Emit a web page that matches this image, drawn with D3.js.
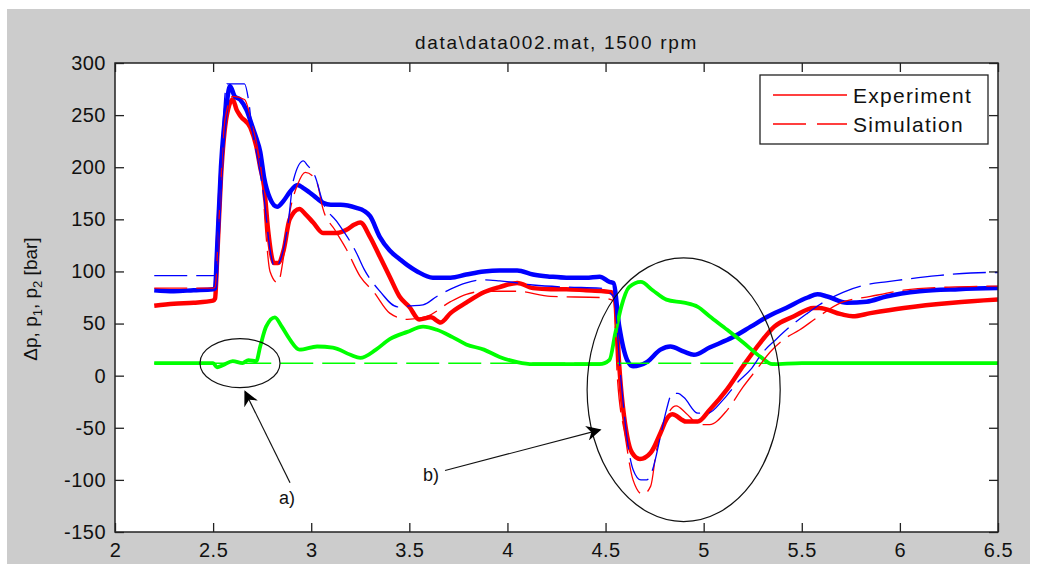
<!DOCTYPE html>
<html>
<head>
<meta charset="utf-8">
<script src="https://cdn.jsdelivr.net/npm/d3@7"></script>
<style>
  html, body { margin: 0; padding: 0; background: #ffffff; }
  svg { display: block; font-family: "Liberation Sans", Arial, Helvetica, sans-serif; }
</style>
</head>
<body>
<svg id="chart" width="1039" height="564"></svg>
<script>
// ---------------- DATA ----------------
const titleText = "data\\data002.mat, 1500 rpm";
const xTicks = [2, 2.5, 3, 3.5, 4, 4.5, 5, 5.5, 6, 6.5];
const xTickLabels = ["2", "2.5", "3", "3.5", "4", "4.5", "5", "5.5", "6", "6.5"];
const yTicks = [-150, -100, -50, 0, 50, 100, 150, 200, 250, 300];
const yTickLabels = ["-150", "-100", "-50", "0", "50", "100", "150", "200", "250", "300"];
const legendLabels = ["Experiment", "Simulation"];

// p1 experiment (blue, solid)
const p1Exp = [[2.2,82],[2.3,81],[2.4,82],[2.5,83],[2.51,84],[2.52,120],[2.54,200],[2.57,262],[2.586,278],[2.61,268],[2.637,265],[2.67,255],[2.70,239],[2.72,228],[2.74,215],[2.76,190],[2.79,170],[2.826,162],[2.86,168],[2.89,176],[2.93,183],[2.96,180],[2.99,176],[3.03,170],[3.06,166],[3.10,164],[3.15,164],[3.23,161],[3.27,158],[3.30,153],[3.35,133],[3.40,120],[3.45,112],[3.49,106],[3.54,100],[3.62,94],[3.71,94],[3.79,97],[3.88,100],[3.96,101],[4.05,101],[4.13,97],[4.22,95],[4.30,94],[4.40,94],[4.47,95],[4.52,90],[4.54,89],[4.57,47],[4.61,15],[4.64,9],[4.71,13],[4.78,25],[4.83,28],[4.90,23],[4.95,20],[5.03,27],[5.15,37],[5.24,47],[5.32,56],[5.42,65],[5.53,75],[5.58,78],[5.63,76],[5.73,70],[5.83,71],[5.93,76],[6.10,81],[6.30,83],[6.50,84]];
// p2 experiment (red, solid)
const p2Exp = [[2.2,67],[2.3,69],[2.4,70],[2.5,72],[2.51,74],[2.52,110],[2.54,190],[2.57,250],[2.60,265],[2.62,255],[2.64,249],[2.69,238],[2.72,220],[2.74,200],[2.76,181],[2.78,140],[2.81,108],[2.83,108],[2.86,121],[2.89,150],[2.94,160],[2.97,155],[3.01,147],[3.06,137],[3.13,137],[3.18,140],[3.22,145],[3.25,147],[3.30,133],[3.35,114],[3.40,95],[3.45,76],[3.50,66],[3.55,54],[3.61,56],[3.66,51],[3.71,60],[3.79,70],[3.88,80],[3.96,85],[4.05,89],[4.13,84],[4.22,83],[4.30,83],[4.40,82],[4.49,81],[4.53,80],[4.55,73],[4.57,9],[4.61,-58],[4.635,-74],[4.675,-80],[4.73,-74],[4.78,-55],[4.81,-42],[4.84,-37],[4.91,-44],[4.97,-44],[5.03,-33],[5.12,-13],[5.20,9],[5.29,32],[5.36,47],[5.46,57],[5.56,65],[5.59,65],[5.70,59],[5.76,57],[5.85,60],[6.02,65],[6.27,70],[6.50,73]];
// delta p experiment (green, solid)
const dpExp = [[2.2,12],[2.3,12],[2.4,12],[2.5,12],[2.52,8],[2.55,10],[2.60,14],[2.65,12],[2.68,15],[2.72,14],[2.74,28],[2.77,47],[2.815,56],[2.85,47],[2.89,35],[2.94,25],[3.03,28],[3.11,27],[3.20,20],[3.25,17],[3.33,25],[3.40,35],[3.49,42],[3.57,47],[3.64,44],[3.72,37],[3.79,30],[3.88,25],[3.96,18],[4.05,13],[4.13,11],[4.30,11],[4.47,11],[4.52,15],[4.55,41],[4.58,66],[4.62,85],[4.68,90],[4.74,82],[4.81,73],[4.90,70],[4.97,66],[5.03,57],[5.12,44],[5.20,32],[5.29,18],[5.35,11],[5.50,12],[6.00,12],[6.50,12]];
// p1 simulation (blue, dashed)
const p1Sim = [[2.2,96],[2.5,96],[2.51,97],[2.53,150],[2.55,240],[2.57,280],[2.66,280],[2.68,265],[2.70,235],[2.73,205],[2.76,170],[2.79,121],[2.815,104],[2.85,115],[2.88,143],[2.91,188],[2.96,206],[2.98,202],[3.02,191],[3.06,166],[3.13,148],[3.23,118],[3.27,102],[3.35,81],[3.44,66],[3.50,67],[3.57,68],[3.64,76],[3.71,83],[3.79,89],[3.88,92],[3.96,91],[4.13,87],[4.30,85],[4.47,84],[4.54,76],[4.58,-7],[4.61,-61],[4.64,-90],[4.68,-100],[4.71,-100],[4.74,-90],[4.78,-58],[4.81,-33],[4.84,-17],[4.87,-17],[4.90,-21],[4.97,-36],[5.02,-36],[5.10,-23],[5.17,-7],[5.24,6],[5.30,22],[5.37,35],[5.44,47],[5.53,60],[5.59,68],[5.71,80],[5.85,88],[5.93,90],[6.19,96],[6.44,99],[6.50,99]];
// p2 simulation (red, dashed)
const p2Sim = [[2.2,84],[2.5,84],[2.51,85],[2.53,150],[2.56,245],[2.60,268],[2.66,265],[2.70,240],[2.73,215],[2.75,188],[2.77,134],[2.79,100],[2.83,89],[2.86,115],[2.89,156],[2.93,183],[2.97,195],[3.01,191],[3.03,185],[3.06,160],[3.12,140],[3.18,121],[3.25,95],[3.32,80],[3.40,60],[3.49,54],[3.59,57],[3.71,71],[3.79,78],[3.88,81],[4.05,81],[4.22,76],[4.47,75],[4.54,72],[4.56,-1],[4.60,-58],[4.64,-100],[4.69,-114],[4.73,-106],[4.76,-71],[4.79,-52],[4.83,-33],[4.86,-29],[4.91,-36],[4.98,-47],[5.03,-47],[5.12,-33],[5.20,-11],[5.27,6],[5.34,23],[5.41,35],[5.49,44],[5.58,56],[5.70,70],[5.85,76],[6.02,82],[6.25,85],[6.50,86]];
// delta p simulation (green, dashed)
const dpSim = [[2.2,12],[6.5,12]];

// annotations (data coordinates)
const ellipses = [
  {cx: 2.637, cy: 12, rx: 0.204, ry: 23.5},
  {cx: 4.898, cy: -13.5, rx: 0.492, ry: 126.5}
];
const arrows = [
  {x1: 2.892, y1: -102.7, x2: 2.663, y2: -15.4},
  {x1: 3.682, y1: -91, x2: 4.472, y2: -52}
];
const notes = [
  {x: 2.877, y: -123, text: "a)"},
  {x: 3.61, y: -101, text: "b)"}
];

// ---------------- DRAW ----------------
const svg = d3.select("#chart");
const W = 1039, H = 564;
const m = {left: 115, top: 63, right: 998, bottom: 532};

svg.append("rect").attr("x", 7).attr("y", 9).attr("width", 1023).attr("height", H - 9).attr("fill", "#cccccc");

const x = d3.scaleLinear().domain([2, 6.5]).range([m.left, m.right]);
const y = d3.scaleLinear().domain([-150, 300]).range([m.bottom, m.top]);

svg.append("rect").attr("x", m.left).attr("y", m.top)
  .attr("width", m.right - m.left).attr("height", m.bottom - m.top).attr("fill", "#ffffff");

const defs = svg.append("defs");
defs.append("clipPath").attr("id", "clip")
  .append("rect").attr("x", m.left).attr("y", m.top)
  .attr("width", m.right - m.left).attr("height", m.bottom - m.top);

const line = d3.line().x(d => x(d[0])).y(d => y(d[1])).curve(d3.curveMonotoneX);
const plot = svg.append("g").attr("clip-path", "url(#clip)");

const dash = "33,9";
const series = [
  {d: p2Exp, c: "#ff0000", w: 4.5, dash: null},
  {d: p1Exp, c: "#0000ff", w: 4.5, dash: null},
  {d: dpExp, c: "#00ff00", w: 3.8, dash: null},
  {d: dpSim, c: "#00ff00", w: 1.5, dash: dash},
  {d: p2Sim, c: "#ff0000", w: 1.3, dash: dash},
  {d: p1Sim, c: "#0000ff", w: 1.3, dash: dash}
];
series.forEach(s => {
  plot.append("path").datum(s.d).attr("d", line)
    .attr("fill", "none").attr("stroke", s.c).attr("stroke-width", s.w)
    .attr("stroke-linejoin", "round")
    .attr("stroke-dasharray", s.dash);
});

// annotations
const ann = svg.append("g");
ellipses.forEach(e => {
  ann.append("ellipse")
    .attr("cx", x(e.cx)).attr("cy", y(e.cy))
    .attr("rx", x(e.cx + e.rx) - x(e.cx)).attr("ry", y(e.cy) - y(e.cy + e.ry))
    .attr("fill", "none").attr("stroke", "#111").attr("stroke-width", 1.2);
});
defs.append("marker").attr("id", "arrowhead")
  .attr("viewBox", "0 0 10 10").attr("refX", 9).attr("refY", 5)
  .attr("markerWidth", 20).attr("markerHeight", 15).attr("markerUnits", "userSpaceOnUse")
  .attr("orient", "auto")
  .append("path").attr("d", "M0,0 L10,5 L0,10 L3,5 Z").attr("fill", "#000");
arrows.forEach(a => {
  ann.append("line")
    .attr("x1", x(a.x1)).attr("y1", y(a.y1)).attr("x2", x(a.x2)).attr("y2", y(a.y2))
    .attr("stroke", "#111").attr("stroke-width", 1.2)
    .attr("marker-end", "url(#arrowhead)");
});
notes.forEach(n => {
  ann.append("text").attr("x", x(n.x)).attr("y", y(n.y))
    .attr("text-anchor", "middle").attr("font-size", 18).attr("fill", "#111")
    .text(n.text);
});

// axes
const tickLen = 9;
const fmtX = (d, i) => xTickLabels[i];
const fmtY = (d, i) => yTickLabels[i];
const gx = svg.append("g").attr("transform", `translate(0,${m.bottom})`)
  .call(d3.axisBottom(x).tickValues(xTicks).tickFormat(fmtX).tickSize(-tickLen).tickPadding(11));
const gy = svg.append("g").attr("transform", `translate(${m.left},0)`)
  .call(d3.axisLeft(y).tickValues(yTicks).tickFormat(fmtY).tickSize(-tickLen).tickPadding(9));
const gt = svg.append("g").attr("transform", `translate(0,${m.top})`)
  .call(d3.axisTop(x).tickValues(xTicks).tickFormat("").tickSize(-tickLen));
const gr = svg.append("g").attr("transform", `translate(${m.right},0)`)
  .call(d3.axisRight(y).tickValues(yTicks).tickFormat("").tickSize(-tickLen));
[gx, gy, gt, gr].forEach(g => {
  g.select(".domain").remove();
  g.selectAll(".tick line").attr("stroke", "#222").attr("stroke-width", 1.3);
  g.selectAll("text").attr("font-size", 20).attr("fill", "#111")
    .attr("letter-spacing", "0.5px")
    .attr("font-family", '"Liberation Sans", Arial, sans-serif');
});
svg.append("rect").attr("x", m.left).attr("y", m.top)
  .attr("width", m.right - m.left).attr("height", m.bottom - m.top)
  .attr("fill", "none").attr("stroke", "#222").attr("stroke-width", 1.5);

// title
svg.append("text").attr("x", (m.left + m.right) / 2).attr("y", 49)
  .attr("text-anchor", "middle").attr("font-size", 19).attr("letter-spacing", "1.7px")
  .attr("fill", "#111").text(titleText);

// y label
const yl = svg.append("text")
  .attr("transform", `translate(37,299) rotate(-90)`)
  .attr("text-anchor", "middle").attr("font-size", 19).attr("fill", "#111");
yl.append("tspan").text("Δp, p");
yl.append("tspan").attr("font-size", 13).attr("dy", 5).text("1");
yl.append("tspan").attr("dy", -5).text(", p");
yl.append("tspan").attr("font-size", 13).attr("dy", 5).text("2");
yl.append("tspan").attr("dy", -5).text(" [bar]");

// legend
const lg = svg.append("g");
lg.append("rect").attr("x", 760).attr("y", 75).attr("width", 228).attr("height", 69)
  .attr("fill", "#ffffff").attr("stroke", "#222").attr("stroke-width", 1.3);
const legendRows = [{label: legendLabels[0], dash: null, ly: 95}, {label: legendLabels[1], dash: "33,11", ly: 124}];
legendRows.forEach(r => {
  lg.append("line").attr("x1", 773).attr("x2", 847).attr("y1", r.ly).attr("y2", r.ly)
    .attr("stroke", "#ff0000").attr("stroke-width", 1.5).attr("stroke-dasharray", r.dash);
  lg.append("text").attr("x", 853).attr("y", r.ly + 8).attr("font-size", 21)
    .attr("letter-spacing", "1.3px").attr("fill", "#111").text(r.label);
});
</script>
</body>
</html>
